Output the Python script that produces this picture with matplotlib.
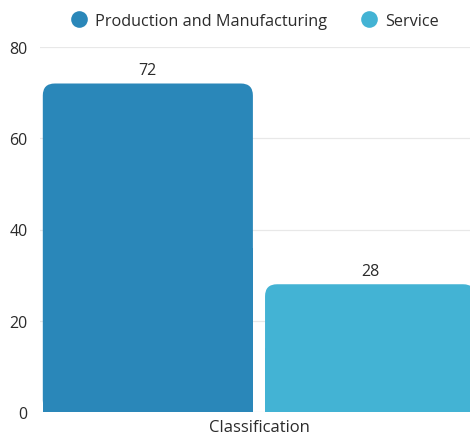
import numpy as np
import matplotlib.pyplot as plt
from matplotlib.patches import FancyBboxPatch, Rectangle
from matplotlib.lines import Line2D

category = "Classification"
series = ["Production and Manufacturing", "Service"]
values = [72, 28]
colors = ["#2a87b9", "#43b3d4"]
yticks = [0, 20, 40, 60, 80]

plt.rcParams["font.family"] = ["Open Sans", "DejaVu Sans"]
text_color = "#2b2b2b"

fig = plt.figure(figsize=(4.70, 4.35), dpi=100)
ax = fig.add_axes([40 / 470, 22 / 435, 430 / 470, 365 / 435])

bar_w = 0.45
gap = 0.026
offsets = np.array([-(bar_w + gap) / 2, (bar_w + gap) / 2])

ax.set_xlim(-0.469, 0.452)
ax.set_ylim(0, 80)

bars = ax.bar(offsets, values, width=bar_w, color=colors, zorder=2)

# swap the square bars for ones with rounded top corners
px_x = ax.transData.transform((1, 0))[0] - ax.transData.transform((0, 0))[0]
px_y = ax.transData.transform((0, 1))[1] - ax.transData.transform((0, 0))[1]
radius_px = 12
r = radius_px / px_x
aspect = px_x / px_y
for b, c in zip(bars, colors):
    x, y = b.get_x(), b.get_y()
    w, h = b.get_width(), b.get_height()
    b.set_visible(False)
    ax.add_patch(FancyBboxPatch((x, y), w, h,
                                boxstyle=f"round,pad=0,rounding_size={r}",
                                mutation_aspect=aspect, fc=c, ec="none",
                                zorder=2))
    ax.add_patch(Rectangle((x, y), w, h / 2, fc=c, ec="none", zorder=2))
    ax.text(x + w / 2, h + 1.2, f"{h:g}", ha="center", va="bottom",
            fontsize=11.5, color=text_color)

ax.set_yticks(yticks)
ax.set_xticks([0])
ax.set_xticklabels([category])
ax.tick_params(axis="both", length=0, labelsize=11.5, colors=text_color)
ax.tick_params(axis="y", pad=9)
ax.tick_params(axis="x", pad=5)
for lbl in ax.get_xticklabels():
    lbl.set_fontsize(12)
ax.grid(axis="y", color="#e8e8e8", linewidth=0.9, zorder=0)
for s in ax.spines.values():
    s.set_visible(False)

handles = [Line2D([], [], marker="o", linestyle="none", markersize=12,
                  markerfacecolor=c, markeredgecolor="none") for c in colors]
fig.legend(handles, series, loc="center", bbox_to_anchor=(0.537, 0.949),
           ncol=2, frameon=False, fontsize=11.7, handletextpad=0.2,
           handlelength=1.6, columnspacing=1.75, labelcolor=text_color)

fig.savefig("out.png", dpi=100)
